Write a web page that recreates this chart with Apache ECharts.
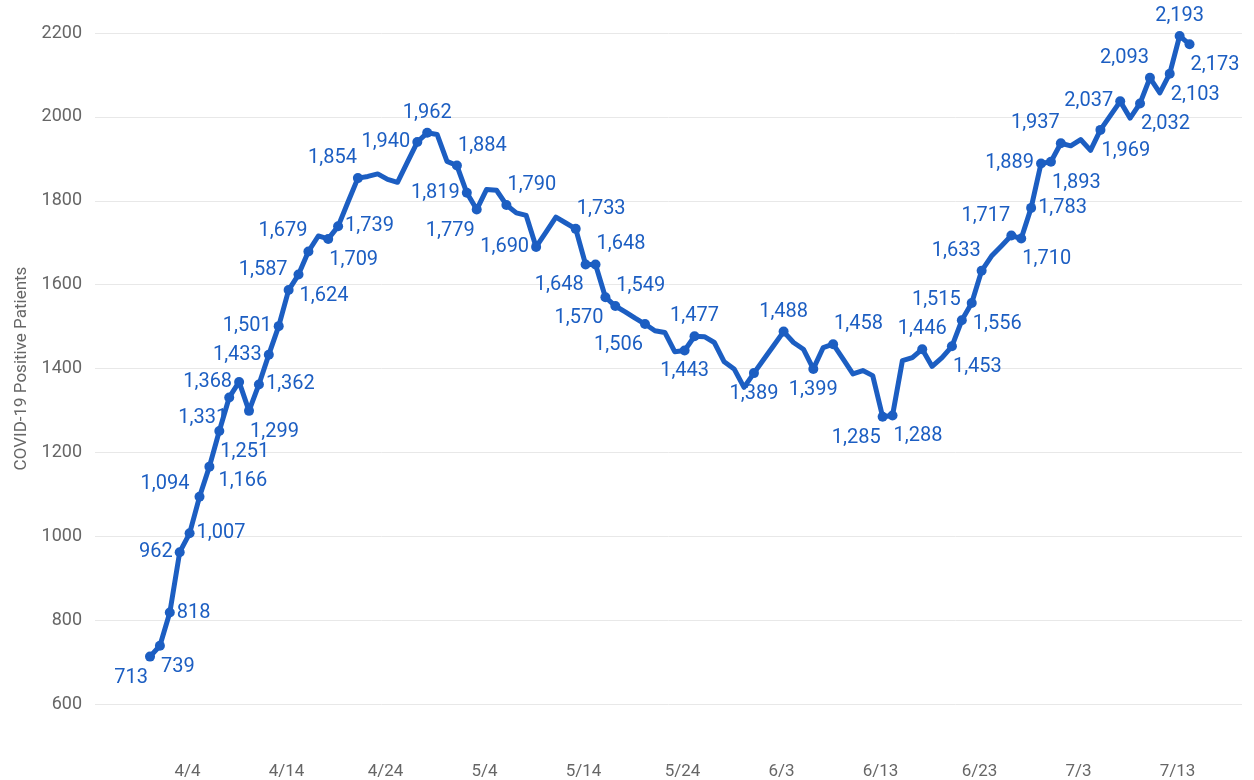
<!DOCTYPE html>
<html>
<head>
<meta charset="utf-8">
<title>COVID-19 Positive Patients</title>
<script src="https://cdn.jsdelivr.net/npm/echarts@6/dist/echarts.min.js"></script>
<style>
  html, body { margin: 0; padding: 0; background: #fff; }
  #chart { width: 1254px; height: 780px; }
</style>
</head>
<body>
<div id="chart"></div>
<script>
// daily counts, day 0 = 3/30
var values = [
  713, 739, 818, 962, 1007, 1094, 1166, 1251, 1331, 1368,
  1299, 1362, 1433, 1501, 1587, 1624, 1679, 1716, 1709, 1739,
  1797, 1854, 1858, 1864, 1851, 1844, 1892, 1940, 1962, 1958,
  1894, 1884, 1819, 1779, 1827, 1825, 1790, 1771, 1765, 1690,
  1725, 1761, 1747, 1733, 1648, 1648, 1570, 1549, 1535, 1520,
  1506, 1490, 1486, 1440, 1443, 1477, 1476, 1462, 1416, 1399,
  1355, 1389, 1422, 1455, 1488, 1462, 1446, 1399, 1450, 1458,
  1423, 1387, 1395, 1383, 1285, 1288, 1419, 1426, 1446, 1405,
  1426, 1453, 1515, 1556, 1633, 1668, 1692, 1717, 1710, 1783,
  1889, 1893, 1937, 1931, 1946, 1920, 1969, 2003, 2037, 1997,
  2032, 2093, 2057, 2103, 2193, 2173
];

// x axis ticks (day index) and their labels
var tickDays = [5, 15, 25, 35, 45, 55, 65, 75, 85, 95, 105];
var tickLabels = ['4/4', '4/14', '4/24', '5/4', '5/14', '5/24', '6/3', '6/13', '6/23', '7/3', '7/13'];

// which points get a dot + value label, and where the label sits
var labelPlace = {
  0: 'BL', 1: 'BR', 2: 'R', 3: 'L', 4: 'R', 5: 'LU', 6: 'RD', 7: 'BR', 8: 'BL', 9: 'L',
  10: 'BR', 11: 'R', 12: 'L', 13: 'L', 14: 'TL', 15: 'BR', 16: 'TL', 18: 'BR', 19: 'R',
  21: 'TL', 27: 'L', 28: 'T', 31: 'TR', 32: 'L', 33: 'BL', 36: 'TR', 39: 'L',
  43: 'TR', 44: 'BL', 45: 'TR', 46: 'BL', 47: 'TR', 50: 'BL', 54: 'B', 55: 'T',
  61: 'B', 64: 'T', 67: 'B', 69: 'TR', 74: 'BL', 75: 'BR', 78: 'T', 81: 'BR',
  82: 'TL', 83: 'BR', 84: 'TL', 87: 'TL', 88: 'BR', 89: 'R', 90: 'L', 91: 'BR',
  92: 'TL', 96: 'BR', 98: 'L', 100: 'BR', 101: 'TL', 103: 'BR', 104: 'T', 105: 'BR'
};

// offset of label anchor from the dot centre: [dx, dy, align]
var placeStyle = {
  T:  [0, -20, 'center'],
  B:  [0, 21, 'center'],
  L:  [-7, 0, 'right'],
  R:  [7, 0, 'left'],
  TL: [-1, -20, 'right'],
  TR: [1, -20, 'left'],
  BL: [-2, 21, 'right'],
  BR: [1, 21, 'left'],
  LU: [-10, -13, 'right'],
  RD: [9, 14, 'left']
};

var BLUE = '#1c5ec2';
var DOT = 10;

var seriesData = values.map(function (v, i) {
  var p = labelPlace[i];
  if (!p) {
    return { value: [i, v], symbol: 'none', label: { show: false } };
  }
  var s = placeStyle[p];
  return {
    value: [i, v],
    symbol: 'circle',
    label: {
      show: true,
      position: [DOT / 2 + s[0], DOT / 2 + s[1]],
      align: s[2],
      verticalAlign: 'middle'
    }
  };
});

var chart = echarts.init(document.getElementById('chart'), null, { renderer: 'canvas' });

chart.setOption({
  animation: false,
  backgroundColor: '#fff',
  grid: { left: 95, right: 12, top: 33, bottom: 74 },
  xAxis: {
    type: 'value',
    min: -5.556,
    max: 110.3,
    splitLine: { show: false },
    axisLine: { show: false },
    axisTick: { show: false },
    axisLabel: {
      customValues: tickDays,
      margin: 59,
      color: '#666',
      fontFamily: 'Roboto',
      fontSize: 17,
      padding: [0, 24, 0, 0],
      formatter: function (val) {
        var k = tickDays.indexOf(Math.round(val));
        return k >= 0 ? tickLabels[k] : '';
      }
    }
  },
  yAxis: {
    type: 'value',
    min: 600,
    max: 2200,
    interval: 200,
    name: 'COVID-19 Positive Patients',
    nameLocation: 'middle',
    nameGap: 65,
    nameRotate: 90,
    nameTextStyle: { color: '#666', fontFamily: 'Roboto', fontSize: 17 },
    axisLine: { show: false },
    axisTick: { show: false },
    splitLine: { lineStyle: { color: '#e8e8e8', width: 1 } },
    axisLabel: {
      margin: 13,
      color: '#666',
      fontFamily: 'Roboto',
      fontSize: 18,
      formatter: function (v) { return String(v); }
    }
  },
  series: [{
    type: 'line',
    data: seriesData,
    symbolSize: DOT,
    showSymbol: true,
    itemStyle: { color: BLUE },
    lineStyle: { color: BLUE, width: 5, cap: 'round', join: 'round' },
    label: {
      color: BLUE,
      fontFamily: 'Roboto',
      fontSize: 20,
      formatter: function (p) {
        return p.value[1].toLocaleString('en-US');
      }
    }
  }]
});
</script>
</body>
</html>
